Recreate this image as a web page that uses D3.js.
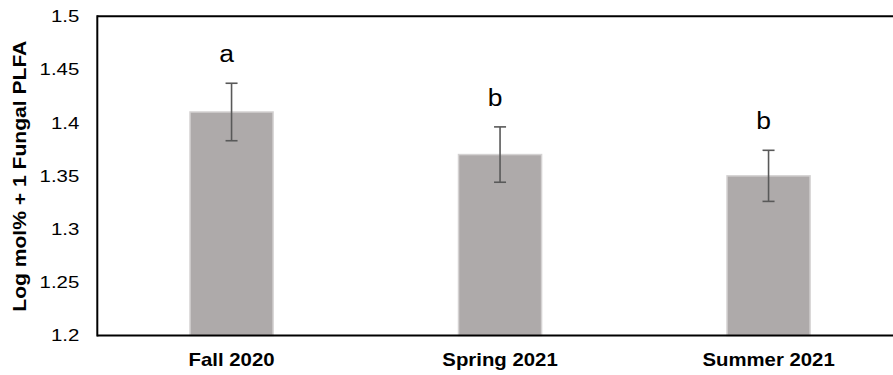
<!DOCTYPE html>
<html>
<head>
<meta charset="utf-8">
<script src="https://cdn.jsdelivr.net/npm/d3@7"></script>
<style>
  html, body { margin: 0; padding: 0; background: #fff; }
  svg { display: block; }
  text { font-family: Arial, "Liberation Sans", sans-serif; fill: #000; }
</style>
</head>
<body>
<svg id="chart" width="893" height="375"></svg>
<script>
// Season means (log mol% + 1 fungal PLFA) with standard errors
const categories = ["Fall 2020", "Spring 2021", "Summer 2021"];
const means = [1.41, 1.37, 1.35];
const errors = [0.027, 0.026, 0.024];
const letters = ["a", "b", "b"];
const yTicks = [1.2, 1.25, 1.3, 1.35, 1.4, 1.45, 1.5];
const yTitle = "Log mol% + 1 Fungal PLFA";

const svg = d3.select("#chart");
const plot = { left: 97.3, right: 902.8, top: 16.2, bottom: 335.5 };

const x = d3.scaleBand()
  .domain(categories)
  .range([plot.left, plot.right])
  .paddingInner(0.685)
  .paddingOuter(0.3425);

const y = d3.scaleLinear()
  .domain([1.2, 1.5])
  .range([plot.bottom, plot.top]);

// stretch a text element horizontally along its run
function widen(sel, factor) {
  sel.each(function () {
    const w = this.getComputedTextLength();
    d3.select(this)
      .attr("textLength", w * factor)
      .attr("lengthAdjust", "spacingAndGlyphs");
  });
}

// bars
const rows = categories.map((c, i) => ({ c, m: means[i], e: errors[i], l: letters[i] }));

svg.append("g").selectAll("rect")
  .data(rows)
  .join("rect")
  .attr("x", d => x(d.c) + 0.75)
  .attr("y", d => y(d.m))
  .attr("width", x.bandwidth() - 1.5)
  .attr("height", d => y(1.2) - y(d.m))
  .attr("fill", "#AEAAAA")
  .attr("stroke", "#D4D2D2")
  .attr("stroke-width", 1.5);

// error bars
const eb = svg.append("g").attr("stroke", "#595959").attr("stroke-width", 1.6);
rows.forEach(d => {
  const cx = x(d.c) + x.bandwidth() / 2;
  eb.append("line").attr("x1", cx).attr("x2", cx)
    .attr("y1", y(d.m + d.e)).attr("y2", y(d.m - d.e));
  [d.m + d.e, d.m - d.e].forEach(v => {
    eb.append("line").attr("x1", cx - 6).attr("x2", cx + 6)
      .attr("y1", y(v)).attr("y2", y(v));
  });
});

// significance letters
svg.append("g").selectAll("text")
  .data(rows)
  .join("text")
  .attr("x", d => x(d.c) + x.bandwidth() / 2 - 5)
  .attr("y", d => y(d.m + d.e) - 21)
  .attr("text-anchor", "middle")
  .style("font-size", "23px")
  .text(d => d.l)
  .call(widen, 1.15);

// plot frame: left, top and bottom edges
const frame = svg.append("g").attr("stroke", "#000").attr("stroke-width", 2).attr("fill", "none");
frame.append("line").attr("x1", plot.left).attr("x2", plot.right).attr("y1", plot.top).attr("y2", plot.top);
frame.append("line").attr("x1", plot.left).attr("x2", plot.right).attr("y1", plot.bottom).attr("y2", plot.bottom);
frame.append("line").attr("x1", plot.left).attr("x2", plot.left).attr("y1", plot.top - 1).attr("y2", plot.bottom + 1);

// y axis labels
const yAxis = svg.append("g")
  .attr("transform", `translate(${plot.left},0)`)
  .call(d3.axisLeft(y).tickValues(yTicks).tickSize(0).tickPadding(18)
    .tickFormat(d => String(+d.toFixed(2))));
yAxis.select(".domain").remove();
yAxis.selectAll("text")
  .style("font-size", "17px")
  .style("font-family", "Arial, 'Liberation Sans', sans-serif")
  .attr("fill", "#000")
  .call(widen, 1.2);

// x axis labels
const xAxis = svg.append("g")
  .attr("transform", `translate(0,${plot.bottom})`)
  .call(d3.axisBottom(x).tickSize(0).tickPadding(0));
xAxis.select(".domain").remove();
xAxis.selectAll("text")
  .attr("dy", null)
  .attr("y", 30.5)
  .style("font-size", "18.5px")
  .style("font-weight", "bold")
  .style("font-family", "Arial, 'Liberation Sans', sans-serif")
  .attr("fill", "#000")
  .call(widen, 1.1);

// y axis title
svg.append("text")
  .attr("transform", `translate(25.7,${(40.7 + 311.7) / 2}) rotate(-90)`)
  .attr("text-anchor", "middle")
  .style("font-size", "19px")
  .style("font-weight", "bold")
  .text(yTitle)
  .attr("textLength", 271)
  .attr("lengthAdjust", "spacingAndGlyphs");
</script>
</body>
</html>
